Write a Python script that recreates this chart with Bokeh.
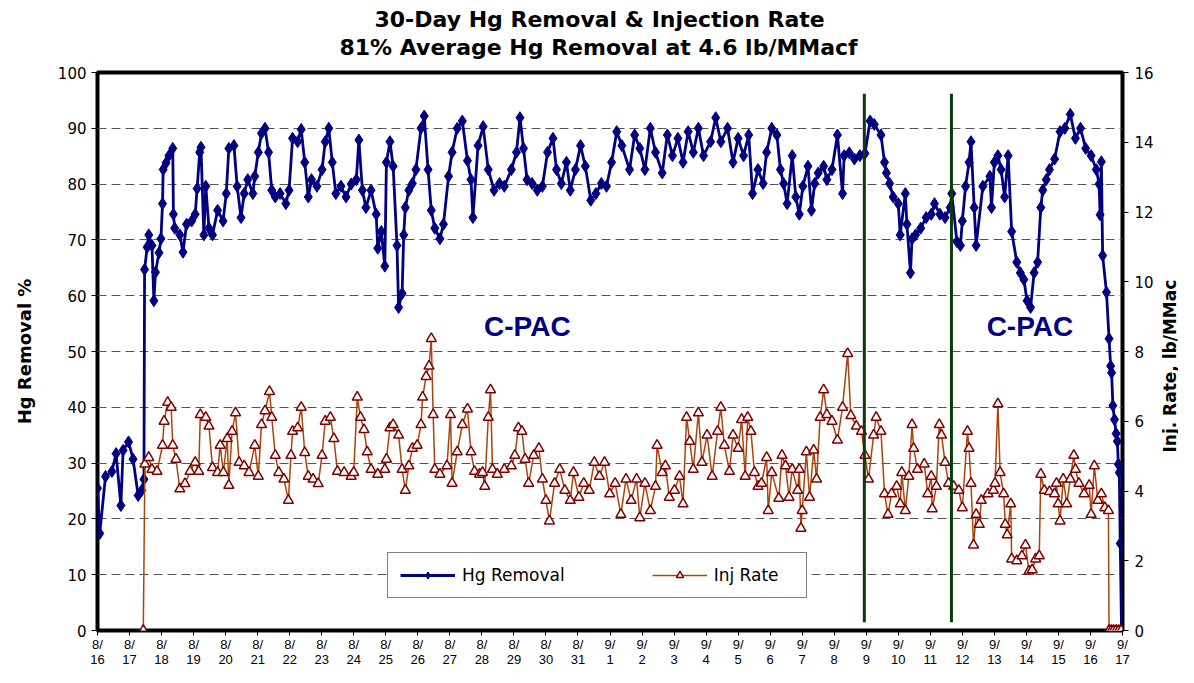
from bokeh.plotting import figure
from bokeh.layouts import row
from bokeh.models import (Range1d, LinearAxis, FixedTicker, Legend, Title,
                          LegendItem, ColumnDataSource)
from bokeh.embed import file_html
from bokeh.resources import INLINE
from bokeh.core.properties import value
import math

# ---------------- data ----------------
tick_months = ["8/"] * 16 + ["9/"] * 17
tick_days = ["16", "17", "18", "19", "20", "21", "22", "23", "24", "25", "26",
             "27", "28", "29", "30", "31", "1", "2", "3", "4", "5", "6", "7",
             "8", "9", "10", "11", "12", "13", "14", "15", "16", "17"]

# time in days since 8/16 00:00
hg_day = [0.00, 0.07, 0.25, 0.45, 0.58, 0.73, 0.80, 0.97, 1.11, 1.27,
          1.38, 1.45, 1.47, 1.55, 1.60, 1.70, 1.76, 1.81, 1.92, 1.98,
          2.03, 2.05, 2.14, 2.23, 2.35, 2.37, 2.41, 2.57, 2.67, 2.78,
          2.94, 3.05, 3.11, 3.19, 3.23, 3.32, 3.38, 3.48, 3.59, 3.75,
          3.92, 4.02, 4.10, 4.26, 4.36, 4.48, 4.58, 4.69, 4.85, 4.91,
          5.02, 5.12, 5.23, 5.34, 5.44, 5.55, 5.70, 5.88, 5.98, 6.09,
          6.25, 6.36, 6.47, 6.58, 6.68, 6.85, 7.01, 7.11, 7.22, 7.33,
          7.44, 7.60, 7.76, 7.92, 8.08, 8.16, 8.27, 8.38, 8.54, 8.70,
          8.75, 8.86, 8.97, 9.02, 9.13, 9.23, 9.35, 9.40, 9.51, 9.56,
          9.61, 9.72, 9.83, 9.94, 10.10, 10.20, 10.32, 10.42, 10.53, 10.69,
          10.80, 10.96, 11.07, 11.23, 11.39, 11.55, 11.66, 11.72, 11.88, 12.04,
          12.20, 12.38, 12.55, 12.70, 12.92, 13.08, 13.19, 13.30, 13.41, 13.57,
          13.73, 13.89, 14.05, 14.22, 14.33, 14.48, 14.64, 14.76, 14.92, 15.08,
          15.23, 15.40, 15.56, 15.73, 15.89, 16.05, 16.21, 16.37, 16.61, 16.77,
          16.93, 17.09, 17.26, 17.42, 17.63, 17.79, 17.95, 18.12, 18.28, 18.44,
          18.60, 18.76, 18.92, 19.14, 19.30, 19.46, 19.67, 19.84, 20.00, 20.17,
          20.33, 20.45, 20.62, 20.78, 20.89, 21.05, 21.21, 21.32, 21.42, 21.53,
          21.69, 21.80, 21.91, 22.02, 22.18, 22.29, 22.39, 22.50, 22.67, 22.77,
          22.93, 23.10, 23.26, 23.31, 23.47, 23.63, 23.80, 23.96, 24.12, 24.25,
          24.46, 24.57, 24.63, 24.73, 24.84, 25.00, 25.06, 25.22, 25.27, 25.38,
          25.43, 25.54, 25.70, 25.87, 26.03, 26.13, 26.30, 26.46, 26.62, 26.67,
          26.83, 26.94, 27.00, 27.10, 27.21, 27.27, 27.37, 27.43, 27.64, 27.86,
          27.91, 28.00, 28.11, 28.21, 28.32, 28.43, 28.54, 28.70, 28.81, 28.92,
          29.02, 29.13, 29.24, 29.35, 29.45, 29.51, 29.62, 29.72, 29.88, 30.05,
          30.20, 30.37, 30.53, 30.69, 30.85, 31.02, 31.18, 31.27, 31.30, 31.34,
          31.38, 31.50, 31.58, 31.63, 31.66, 31.70, 31.75, 31.80, 31.84, 31.87,
          31.90, 31.93, 31.97]

hg_removal = [25.5, 17.4, 27.6, 28.5, 31.7, 22.4, 32.3, 33.8, 30.7, 24.2,
              25.1, 27.1, 64.7, 68.7, 70.9, 69.0, 59.1, 64.2, 67.7, 70.2,
              76.5, 82.6, 83.8, 85.1, 86.4, 74.6, 72.1, 70.9, 67.8, 72.8,
              73.4, 74.6, 79.2, 85.7, 86.6, 70.9, 79.6, 72.1, 70.9, 75.3,
              73.4, 78.3, 86.4, 86.9, 79.6, 74.0, 78.3, 80.8, 78.3, 81.4,
              85.7, 89.1, 90.0, 85.7, 78.9, 77.7, 78.3, 76.5, 78.9, 88.2,
              87.6, 89.8, 83.9, 77.7, 80.8, 79.6, 82.6, 87.6, 90.0, 83.9,
              78.3, 79.6, 77.7, 80.0, 80.8, 87.9, 78.9, 75.8, 78.9, 74.6,
              68.5, 71.5, 65.3, 83.9, 87.6, 83.2, 69.0, 57.9, 60.4, 70.9,
              75.8, 78.9, 80.1, 82.6, 90.0, 92.2, 82.6, 75.3, 72.1, 70.2,
              72.8, 81.4, 85.7, 90.0, 91.3, 84.2, 80.8, 74.0, 86.9, 90.3,
              82.6, 78.9, 80.1, 79.6, 82.6, 85.7, 91.9, 86.4, 80.8, 80.1,
              78.9, 79.6, 85.7, 88.2, 82.6, 80.1, 83.9, 78.9, 82.6, 86.9,
              83.2, 77.1, 78.3, 80.1, 79.6, 83.9, 89.4, 86.9, 82.6, 88.8,
              86.4, 82.6, 90.0, 85.7, 82.0, 88.8, 85.1, 88.2, 83.9, 89.4,
              85.7, 90.0, 85.1, 87.6, 91.9, 87.6, 90.0, 83.9, 88.2, 85.1,
              88.8, 78.3, 82.6, 80.1, 85.7, 90.0, 88.8, 82.6, 80.1, 76.5,
              85.1, 77.7, 74.6, 79.6, 83.2, 75.3, 80.1, 82.0, 83.2, 80.8,
              82.6, 88.8, 78.3, 85.1, 85.6, 84.5, 85.1, 85.5, 91.3, 90.7,
              88.8, 83.9, 82.0, 80.1, 77.7, 76.5, 70.9, 78.3, 72.8, 64.1,
              70.2, 70.9, 72.1, 74.0, 74.6, 76.5, 74.6, 74.0, 75.8, 78.3,
              69.7, 69.0, 73.4, 79.6, 83.9, 87.6, 75.8, 69.0, 79.6, 81.4,
              75.8, 83.9, 85.1, 82.6, 77.7, 85.1, 71.5, 66.0, 64.1, 62.9,
              59.1, 57.9, 64.1, 66.0, 75.8, 78.9, 80.8, 82.6, 84.5, 89.4,
              90.0, 92.5, 88.2, 90.0, 86.4, 85.1, 82.6, 80.0, 74.5, 84.0,
              67.2, 60.6, 52.3, 47.4, 46.2, 40.3, 37.8, 35.3, 33.9, 29.8,
              28.3, 15.6, 0.0]

inj_day = [1.43, 1.48, 1.60, 1.70, 1.86, 2.03, 2.08, 2.19, 2.30, 2.35,
           2.45, 2.57, 2.73, 2.89, 3.05, 3.16, 3.21, 3.38, 3.48, 3.59,
           3.75, 3.83, 3.93, 4.05, 4.10, 4.20, 4.31, 4.42, 4.58, 4.73,
           4.91, 5.02, 5.12, 5.23, 5.37, 5.44, 5.55, 5.66, 5.82, 5.96,
           6.04, 6.09, 6.25, 6.36, 6.47, 6.58, 6.73, 6.89, 7.01, 7.11,
           7.27, 7.38, 7.49, 7.70, 7.92, 8.00, 8.11, 8.21, 8.32, 8.42,
           8.54, 8.75, 8.97, 9.02, 9.13, 9.23, 9.40, 9.51, 9.61, 9.72,
           9.83, 9.98, 10.10, 10.15, 10.26, 10.35, 10.42, 10.48, 10.53, 10.69,
           10.91, 11.02, 11.07, 11.23, 11.39, 11.55, 11.66, 11.77, 11.93, 12.02,
           12.09, 12.20, 12.27, 12.33, 12.48, 12.70, 12.92, 13.03, 13.14, 13.25,
           13.35, 13.46, 13.62, 13.78, 13.89, 14.00, 14.11, 14.27, 14.43, 14.59,
           14.76, 14.86, 15.03, 15.18, 15.35, 15.51, 15.67, 15.83, 15.99, 16.16,
           16.34, 16.50, 16.66, 16.83, 16.93, 17.09, 17.26, 17.42, 17.47, 17.63,
           17.73, 17.85, 18.01, 18.17, 18.28, 18.39, 18.49, 18.60, 18.76, 18.87,
           19.03, 19.19, 19.36, 19.46, 19.57, 19.73, 19.84, 20.00, 20.11, 20.22,
           20.30, 20.40, 20.51, 20.62, 20.73, 20.89, 20.94, 21.05, 21.27, 21.37,
           21.48, 21.59, 21.69, 21.86, 21.91, 21.96, 22.00, 22.13, 22.23, 22.36,
           22.45, 22.56, 22.67, 22.77, 22.93, 23.10, 23.26, 23.42, 23.52, 23.69,
           23.85, 23.96, 24.07, 24.23, 24.31, 24.46, 24.57, 24.68, 24.79, 24.95,
           25.06, 25.11, 25.22, 25.33, 25.43, 25.48, 25.60, 25.81, 25.92, 26.03,
           26.06, 26.19, 26.28, 26.35, 26.46, 26.57, 26.73, 26.89, 27.00, 27.16,
           27.21, 27.27, 27.35, 27.43, 27.53, 27.59, 27.80, 27.97, 28.02, 28.11,
           28.18, 28.29, 28.34, 28.40, 28.51, 28.54, 28.70, 28.86, 28.97, 29.08,
           29.18, 29.29, 29.40, 29.45, 29.56, 29.72, 29.88, 29.94, 29.99, 30.05,
           30.15, 30.26, 30.37, 30.48, 30.53, 30.64, 30.80, 30.96, 31.02, 31.12,
           31.23, 31.34, 31.45, 31.56, 31.58, 31.65, 31.72, 31.80, 31.88, 31.96]

inj_rate = [0.0, 4.77, 4.96, 4.62, 4.56, 5.31, 6.0, 6.54, 6.4, 5.31,
            4.91, 4.06, 4.21, 4.56, 4.82, 4.56, 6.19, 6.11, 5.86, 4.67,
            4.53, 5.31, 4.53, 5.5, 4.16, 5.71, 6.24, 4.82, 4.72, 4.53,
            5.31, 4.42, 5.9, 6.3, 6.85, 6.11, 5.02, 4.53, 4.34, 3.73,
            5.02, 5.71, 5.81, 6.4, 5.1, 4.42, 4.34, 4.21, 5.02, 6.0,
            6.11, 5.5, 4.56, 4.53, 4.42, 4.53, 6.69, 6.11, 5.76, 5.12,
            4.62, 4.48, 4.62, 4.91, 5.81, 5.9, 5.6, 4.62, 4.02, 4.72,
            5.22, 5.31, 5.9, 6.69, 7.28, 7.58, 8.37, 6.19, 4.62, 4.48,
            4.72, 6.19, 4.22, 5.12, 5.9, 6.35, 5.12, 4.56, 4.48, 4.53,
            4.13, 6.11, 6.9, 4.62, 4.48, 4.62, 4.72, 5.02, 5.81, 5.71,
            4.91, 4.22, 5.02, 5.22, 4.34, 3.73, 3.14, 4.22, 4.62, 4.02,
            3.73, 4.53, 3.82, 4.22, 4.02, 4.82, 4.42, 4.82, 3.92, 4.22,
            3.33, 4.34, 3.73, 4.34, 3.23, 4.22, 3.44, 4.13, 5.31, 4.53,
            4.72, 3.82, 4.02, 4.42, 3.63, 6.11, 5.42, 4.62, 6.24, 4.82,
            5.6, 4.42, 5.71, 6.4, 5.31, 4.56, 5.6, 5.22, 6.05, 4.42,
            6.11, 5.71, 4.53, 4.13, 4.22, 4.96, 3.44, 4.53, 3.79, 5.02,
            4.72, 3.82, 4.62, 4.02, 4.62, 2.93, 3.44, 5.12, 3.82, 5.17,
            4.34, 6.11, 6.9, 6.19, 6.0, 5.46, 6.4, 7.94, 6.16, 5.86,
            5.71, 5.02, 4.34, 5.6, 6.11, 5.71, 3.92, 3.33, 3.92, 4.13,
            3.63, 4.53, 3.44, 4.42, 5.9, 5.22, 4.62, 4.77, 3.92, 4.42,
            3.49, 4.13, 5.9, 5.6, 4.82, 4.22, 4.13, 4.02, 3.52, 5.71,
            5.22, 4.22, 2.45, 3.33, 3.04, 3.73, 3.92, 4.02, 4.22, 6.5,
            4.53, 3.92, 3.04, 2.74, 3.63, 2.05, 2.0, 2.14, 2.45, 1.7,
            1.74, 2.05, 2.14, 4.48, 4.02, 3.98, 3.92, 4.22, 3.63, 3.14,
            4.34, 3.63, 4.34, 5.02, 4.62, 4.22, 3.92, 4.16, 3.33, 4.72,
            3.73, 3.92, 3.52, 3.44, 0.0, 0.0, 0.0, 0.0, 0.0, 0.0]

boundary_day = [23.94, 26.66]          # change-over markers
cpac_day = [13.42, 29.11]              # "C-PAC" annotations
cpac_text = ["C-PAC", "C-PAC"]
right_axis_title = ["Inj. Rate, lb/MMac"]

# ---------------- main figure ----------------
NAVY = "#000080"
p = figure(width=1160, height=667, output_backend="svg", toolbar_location=None,
           x_range=Range1d(0, 32), y_range=Range1d(0, 100),
           min_border_left=97, min_border_right=38, min_border_top=72,
           min_border_bottom=37, background_fill_color="white",
           border_fill_color="white")
p.title.visible = False
p.extra_y_ranges = {"rate": Range1d(0, 16)}
p.outline_line_color = "black"
p.outline_line_width = 4

TICK_FONT = "Liberation Sans"
Y_TICK_FONT = "DejaVu Sans"

# left axis
ly = p.yaxis[0]
ly.ticker = FixedTicker(ticks=[0, 10, 20, 30, 40, 50, 60, 70, 80, 90, 100])
ly.axis_line_color = None
ly.major_tick_out = 6
ly.major_tick_in = 0
ly.minor_tick_line_color = None
ly.major_label_standoff = 5
ly.major_label_text_font = Y_TICK_FONT
ly.major_label_text_font_size = "15px"
ly.major_label_text_color = "black"
ly.axis_label = "Hg Removal %"
ly.axis_label_text_font = "DejaVu Sans"
ly.axis_label_text_font_style = "bold"
ly.axis_label_text_font_size = "18px"
ly.axis_label_text_color = "black"
ly.axis_label_standoff = 20

# right axis
ry = LinearAxis(y_range_name="rate",
                ticker=FixedTicker(ticks=[0, 2, 4, 6, 8, 10, 12, 14, 16]))
ry.axis_line_color = None
ry.major_tick_out = 6
ry.major_tick_in = 0
ry.minor_tick_line_color = None
ry.major_label_standoff = 6
ry.major_label_text_font = Y_TICK_FONT
ry.major_label_text_font_size = "15px"
ry.major_label_text_color = "black"
p.add_layout(ry, "right")

# bottom axes: month line + day line
day_ticks = list(range(33))
bx = p.xaxis[0]
bx.ticker = FixedTicker(ticks=day_ticks)
bx.major_label_overrides = {i: tick_months[i] for i in day_ticks}
bx.axis_line_color = None
bx.major_tick_out = 5
bx.major_tick_in = 0
bx.minor_tick_line_color = None
bx.major_label_standoff = 1
bx.major_label_text_font = TICK_FONT
bx.major_label_text_font_size = "13px"
bx.major_label_text_color = "black"

bx2 = LinearAxis(ticker=FixedTicker(ticks=day_ticks))
bx2.major_label_overrides = {i: tick_days[i] for i in day_ticks}
bx2.axis_line_color = None
bx2.major_tick_line_color = None
bx2.minor_tick_line_color = None
bx2.major_tick_out = 0
bx2.major_tick_in = 0
bx2.major_label_standoff = 0
bx2.major_label_text_font = TICK_FONT
bx2.major_label_text_font_size = "13px"
bx2.major_label_text_color = "black"
p.add_layout(bx2, "below")

# grid
p.xgrid.visible = False
p.ygrid.grid_line_color = "#555555"
p.ygrid.grid_line_dash = "9 5"
p.ygrid.grid_line_width = 1

# titles (second line added first: it sits closest to the frame)
t2 = Title(text="81% Average Hg Removal at 4.6 lb/MMacf", align="left",
           offset=242, standoff=22, vertical_align="top",
           text_font="DejaVu Sans", text_font_style="bold",
           text_font_size="22px", text_color="black")
t1 = Title(text="30-Day Hg Removal & Injection Rate", align="left",
           offset=277, standoff=-16, vertical_align="bottom",
           text_font="DejaVu Sans", text_font_style="bold",
           text_font_size="22px", text_color="black")
p.add_layout(t2, "above")
p.add_layout(t1, "above")

# ---------------- series ----------------
src_hg = ColumnDataSource(dict(x=hg_day, y=hg_removal))
src_inj = ColumnDataSource(dict(x=inj_day, y=inj_rate))

hg_line = p.line("x", "y", source=src_hg, line_color=NAVY, line_width=2.8)
hg_pts = p.scatter("x", "y", source=src_hg, marker="diamond", size=12,
                   fill_color=NAVY, line_color=NAVY)

inj_line = p.line("x", "y", source=src_inj, y_range_name="rate",
                  line_color="#a8440c", line_width=1.5)
inj_pts = p.scatter("x", "y", source=src_inj, y_range_name="rate",
                    marker="triangle", size=10, fill_color="white",
                    line_color="#800000", line_width=1.5)

# change-over lines
p.segment(x0=boundary_day, y0=[1.5, 1.5], x1=boundary_day, y1=[96.2, 96.2],
          line_color="#0b3b0b", line_width=3)

# C-PAC annotations
p.text(x=cpac_day, y=[54.5, 54.5], text=cpac_text,
       text_font=value("Liberation Sans"), text_font_style="bold",
       text_font_size="28px", text_color=NAVY, text_align="center",
       text_baseline="middle")

# legend
legend = Legend(items=[LegendItem(label="Hg Removal", renderers=[hg_line, hg_pts]),
                       LegendItem(label="Inj Rate", renderers=[inj_line, inj_pts])],
                location=(290, 32), orientation="horizontal",
                border_line_color="black", border_line_width=1,
                background_fill_color="white", background_fill_alpha=1,
                label_text_font="DejaVu Sans", label_text_font_size="17px",
                label_text_color="black", glyph_width=55, glyph_height=18,
                label_standoff=7, spacing=87, padding=12, margin=0,
                label_width=80)
p.add_layout(legend)

# ---------------- right axis title strip (reads bottom-to-top) ----------------
q = figure(width=18, height=667, output_backend="svg", toolbar_location=None,
           x_range=Range1d(0, 1), y_range=Range1d(0, 667),
           min_border_left=0, min_border_right=0, min_border_top=0,
           min_border_bottom=0, background_fill_color="white",
           border_fill_color="white")
q.title.visible = False
q.axis.visible = False
q.grid.visible = False
q.outline_line_color = None
q.text(x=[0.5], y=[316], text=right_axis_title, angle=math.pi / 2,
       text_font=value("DejaVu Sans"), text_font_style="bold",
       text_font_size="17px", text_color="black", text_align="center",
       text_baseline="middle")

layout = row(p, q)
open("out.html", "w").write(file_html(layout, INLINE))
